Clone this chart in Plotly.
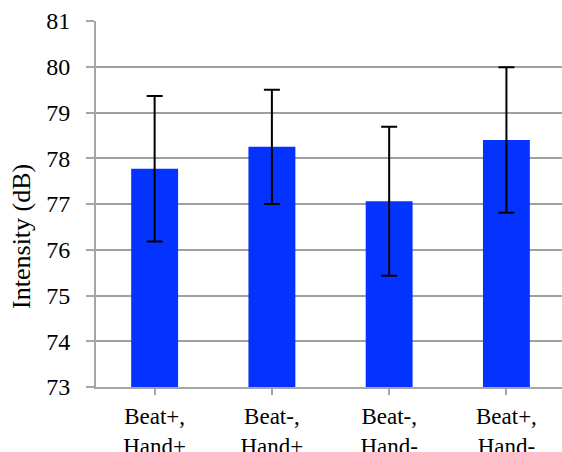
import plotly.graph_objects as go

# Mean intensity per condition with error-bar half-widths (dB)
categories = ["Beat+,<br>Hand+", "Beat-,<br>Hand+", "Beat-,<br>Hand-", "Beat+,<br>Hand-"]
intensity = [77.77, 78.25, 77.06, 78.40]
error = [1.59, 1.25, 1.63, 1.59]
y_ticks = [73, 74, 75, 76, 77, 78, 79, 80, 81]
y_title = "Intensity (dB)"

FONT = "Liberation Serif"
AXIS_GRAY = "#a6a6a6"
TICK_SIZE = 24
Y_RANGE = [73, 81]

fig = go.Figure()
fig.add_trace(
    go.Bar(
        x=list(range(len(categories))),
        y=intensity,
        width=0.4,
        marker=dict(color="#0433ff", line=dict(width=0)),
        error_y=dict(
            type="data",
            array=error,
            symmetric=True,
            color="black",
            thickness=2,
            width=8,
        ),
    )
)
# Empty trace that anchors the overlaid label axis
fig.add_trace(go.Scatter(x=[], y=[], yaxis="y2", showlegend=False, hoverinfo="skip"))

fig.update_layout(
    width=562,
    height=452,
    margin=dict(l=95.5, r=0, t=20.7, b=65.3),
    paper_bgcolor="white",
    plot_bgcolor="white",
    showlegend=False,
    font=dict(family=FONT, size=TICK_SIZE, color="black"),
)

fig.update_xaxes(
    tickmode="array",
    tickvals=list(range(len(categories))),
    ticktext=categories,
    range=[-0.5, 3.474],
    showline=True,
    linecolor=AXIS_GRAY,
    linewidth=2,
    ticks="outside",
    tickson="boundaries",
    ticklen=6,
    tickwidth=2,
    tickcolor=AXIS_GRAY,
    showgrid=False,
    zeroline=False,
    tickfont=dict(family=FONT, size=23, color="black"),
    ticklabelstandoff=1,
    automargin=False,
)

# Main y axis: line, short tick marks and gridlines
fig.update_layout(
    yaxis=dict(
        range=Y_RANGE,
        tickmode="array",
        tickvals=y_ticks,
        showticklabels=False,
        showline=True,
        linecolor=AXIS_GRAY,
        linewidth=2,
        ticks="outside",
        ticklen=8,
        tickwidth=2,
        tickcolor=AXIS_GRAY,
        showgrid=True,
        gridcolor="#a0a0a0",
        gridwidth=1.5,
        zeroline=False,
        automargin=False,
    ),
    # Overlaid y axis carrying the numbers, set further out from the axis line
    yaxis2=dict(
        overlaying="y",
        side="left",
        range=Y_RANGE,
        tickmode="array",
        tickvals=y_ticks,
        ticktext=[str(v) for v in y_ticks],
        showline=False,
        ticks="outside",
        ticklen=20,
        tickcolor="rgba(0,0,0,0)",
        showgrid=False,
        zeroline=False,
        tickfont=dict(family=FONT, size=TICK_SIZE, color="black"),
        automargin=False,
    ),
)

# Rotated axis title, placed a little below the plot's vertical centre
fig.add_annotation(
    text=y_title,
    xref="paper",
    yref="paper",
    x=-0.1597,
    y=0.4117,
    xanchor="center",
    yanchor="middle",
    textangle=-90,
    showarrow=False,
    font=dict(family=FONT, size=26, color="black"),
)

fig.write_html("out.html")
